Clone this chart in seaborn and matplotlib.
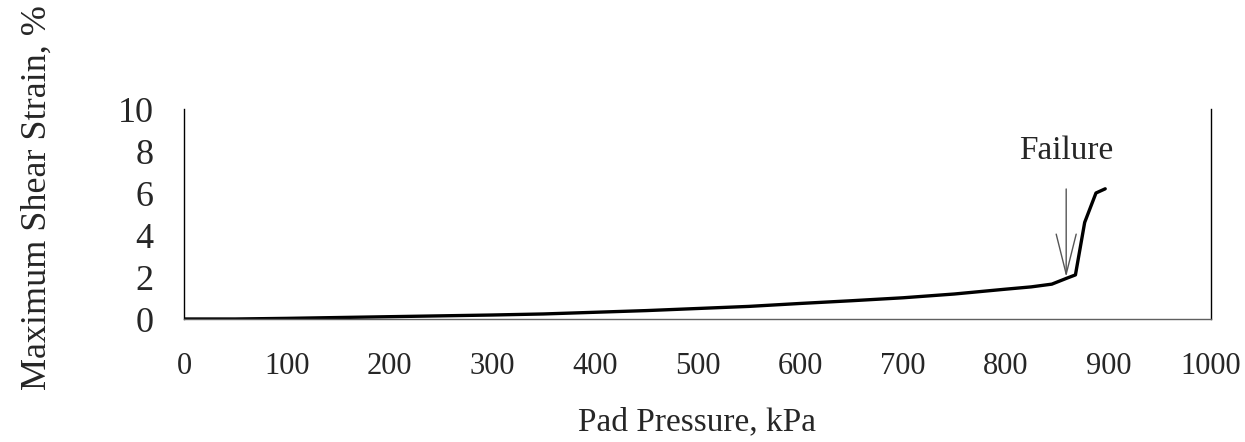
import pandas as pd
import seaborn as sns
import matplotlib
matplotlib.use("Agg")
import matplotlib.pyplot as plt

# pad pressure (kPa) vs maximum shear strain (%)
pressure = [0, 50, 100, 150, 200, 250, 300, 350, 400, 450, 500, 550, 600,
            650, 700, 750, 800, 825, 845, 860, 868, 877, 888, 897]
strain = [0.0, 0.0, 0.03, 0.07, 0.11, 0.15, 0.19, 0.24, 0.32, 0.40, 0.50,
          0.60, 0.74, 0.87, 1.01, 1.19, 1.42, 1.53, 1.66, 1.95, 2.10, 4.60,
          6.00, 6.20]

x_ticks = [0, 100, 200, 300, 400, 500, 600, 700, 800, 900, 1000]
y_ticks = [0, 2, 4, 6, 8, 10]

failure_x = 859
failure_y = 2.0

df = pd.DataFrame({"pressure": pressure, "strain": strain})

sns.set_style("white")
plt.rcParams["font.family"] = ["Liberation Serif", "DejaVu Serif"]

fig = plt.figure(figsize=(12.45, 4.42), dpi=100)
ax = fig.add_axes([184 / 1245, 1 - 319 / 442, (1211 - 184) / 1245, 210 / 442])

sns.lineplot(data=df, x="pressure", y="strain", color="black", linewidth=2.4,
             ax=ax, sort=False)

ax.set_xlim(0, 1000)
ax.set_ylim(0, 10)
ax.set_xticks(x_ticks)
ax.set_yticks(y_ticks)
ax.tick_params(axis="x", direction="in", length=18, width=1, color="#707070",
               labelsize=22, pad=24)
ax.tick_params(axis="y", direction="in", length=19, width=1, color="black",
               labelsize=26, pad=22)

ax.spines["top"].set_visible(False)
for side in ["left", "right"]:
    ax.spines[side].set_color("black")
    ax.spines[side].set_linewidth(1)
ax.spines["bottom"].set_color("#606060")
ax.spines["bottom"].set_linewidth(1)

ax.set_xlabel("Pad Pressure, kPa", fontsize=24, labelpad=18)
ax.set_ylabel("")
fig.text(37 / 1245, 1 - 198 / 442, "Maximum Shear Strain, %", rotation=90,
         fontsize=26, ha="center", va="center")

ax.annotate("Failure", xy=(failure_x, failure_y), xytext=(failure_x, 8.0),
            fontsize=24, ha="center", va="center",
            arrowprops=dict(arrowstyle="->,head_length=1.2,head_width=0.3",
                            color="#555555", lw=1, shrinkA=14, shrinkB=0))

fig.savefig("out.png", dpi=100)
